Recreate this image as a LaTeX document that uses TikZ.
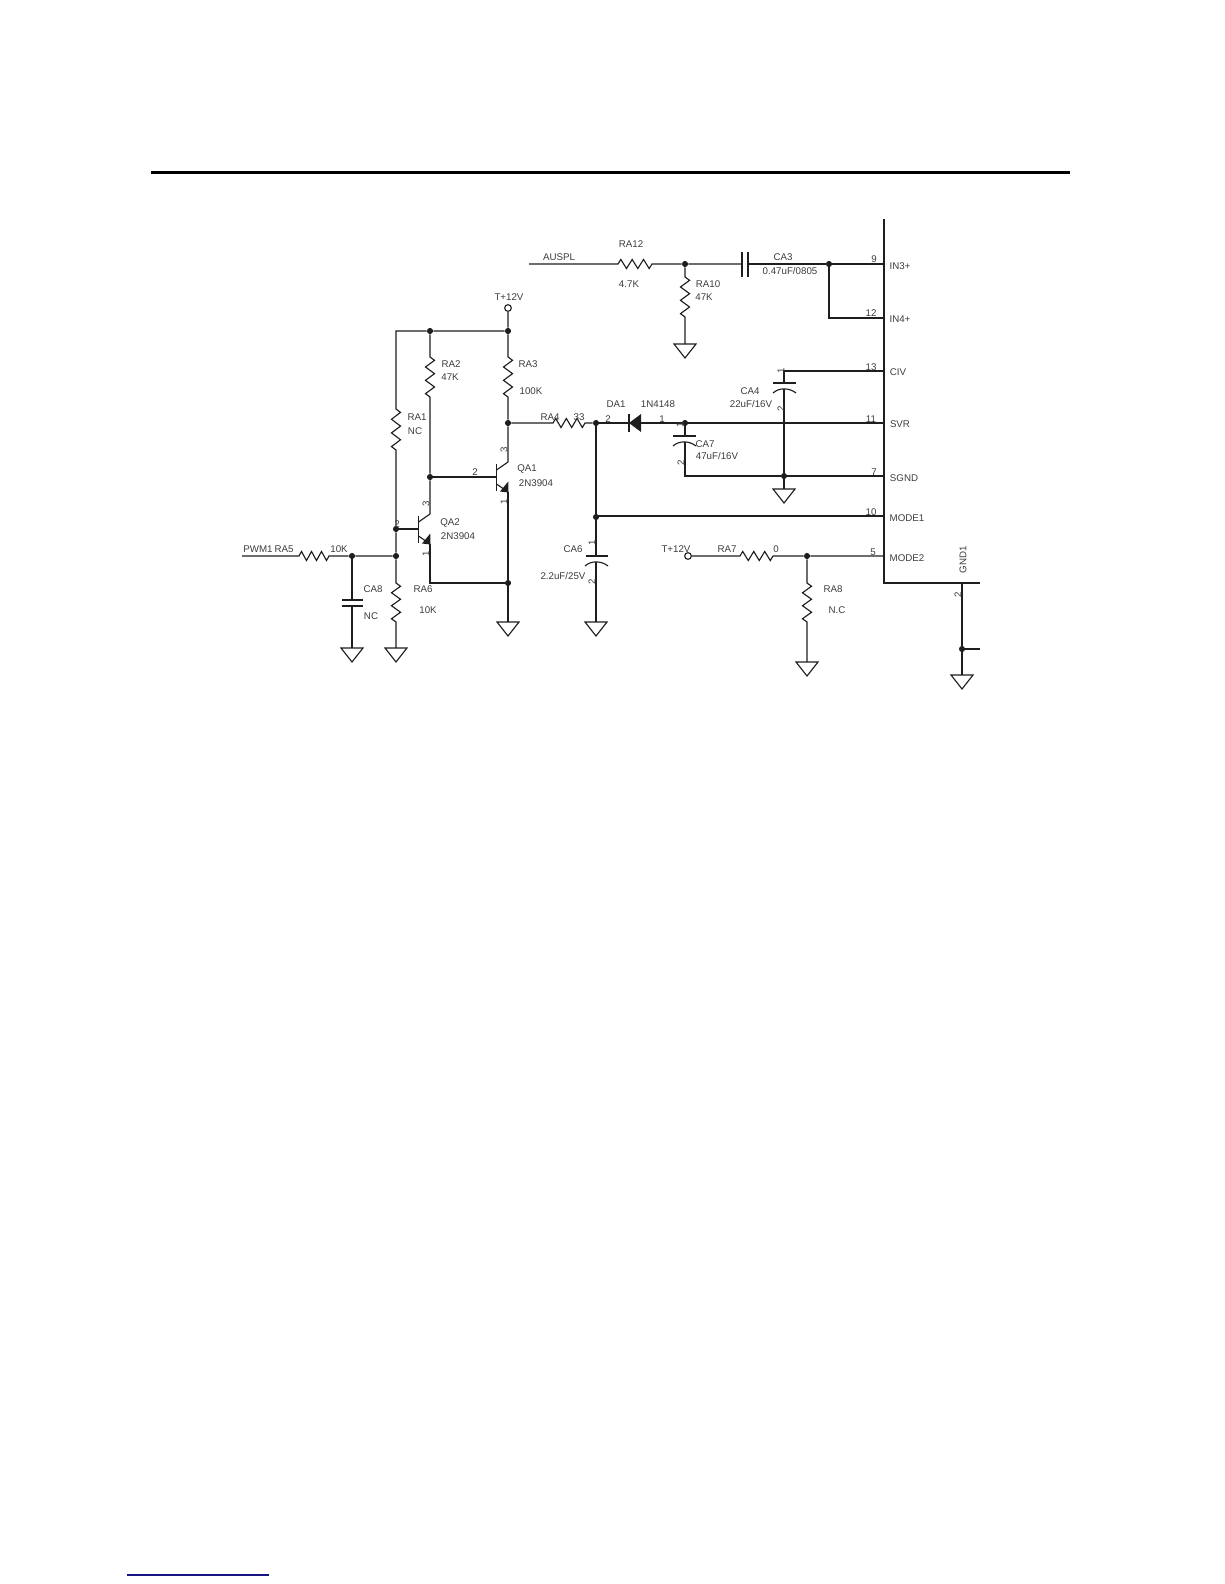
\documentclass[tikz,border=0pt]{standalone}
\usepackage{fontspec}
\setmainfont{Liberation Sans}
\usetikzlibrary{calc}
\definecolor{wirecol}{HTML}{1E1E1E}
\definecolor{textcol}{HTML}{3C3C3C}
\tikzset{
  wire/.style={draw=wirecol,line width=0.85pt,line cap=butt,line join=miter},
  res/.style={to path={
    -- ($(\tikztostart)!0.083!(\tikztotarget)!3.4pt!90:(\tikztotarget)$)
    -- ($(\tikztostart)!0.25!(\tikztotarget)!3.4pt!-90:(\tikztotarget)$)
    -- ($(\tikztostart)!0.417!(\tikztotarget)!3.4pt!90:(\tikztotarget)$)
    -- ($(\tikztostart)!0.583!(\tikztotarget)!3.4pt!-90:(\tikztotarget)$)
    -- ($(\tikztostart)!0.75!(\tikztotarget)!3.4pt!90:(\tikztotarget)$)
    -- ($(\tikztostart)!0.917!(\tikztotarget)!3.4pt!-90:(\tikztotarget)$)
    -- (\tikztotarget)}},
  dot/.style={circle,fill=wirecol,draw=none,minimum size=4.6pt,inner sep=0pt},
  openpt/.style={circle,draw=wirecol,fill=white,line width=0.85pt,minimum size=5pt,inner sep=0pt},
  lbl/.style={text=textcol,font=\fontsize{7.3}{8}\selectfont,inner sep=0pt},
  pinv/.style={lbl,rotate=90},
  gnd/.pic={\draw[wire] (-11,0)--(11,0)--(0,14)--cycle;},
  npn/.pic={
    \draw[wire,line width=1pt] (0,-13.5)--(0,13.5);
    \draw[wire] (0,-7)--(11.5,-15);
    \draw[wire] (0,7)--(11.5,15);
    \fill[wirecol] (3.5,14.5)--(11.8,15.5)--(11.8,4.5)--cycle;}
}
\begin{document}
\begin{tikzpicture}[x=0.75pt,y=-0.75pt]
\useasboundingbox (0,0) rectangle (1224,1584);
% page rules
\coordinate (ruleL) at (151,172.3); \coordinate (ruleR) at (1070,172.3);
\draw[black,line width=2.5pt] (ruleL)--(ruleR);
\coordinate (footL) at (127,1575); \coordinate (footR) at (269,1575);
\draw[color={rgb,255:red,20;green,20;blue,130},line width=0.9pt] (footL)--(footR);

% junctions
\node[dot] (jtop) at (508,331) {};
\node[dot] (jra2) at (430,331) {};
\node[dot] (jq1c) at (508,423) {};
\node[dot] (jq1b) at (430,477) {};
\node[dot] (jq2b) at (396,529) {};
\node[dot] (jpwm) at (396,556) {};
\node[dot] (jca8) at (352,556) {};
\node[dot] (jem) at (508,583) {};
\node[dot] (jda) at (596,423) {};
\node[dot] (jmode) at (596,517) {};
\node[dot] (jsvr) at (685,423) {};
\node[dot] (jsgnd) at (784,476) {};
\node[dot] (jaus) at (685,264) {};
\node[dot] (jin3) at (829,264) {};
\node[dot] (jm2) at (807,556) {};
\node[dot] (jg1) at (962,649) {};
\node[openpt] (vcc) at (508,308) {};
\node[openpt] (vcc2) at (688,556) {};

% free ends and component terminals
\coordinate (corner) at (396,331);
\coordinate (ra1a) at (396,409); \coordinate (ra1b) at (396,450);
\coordinate (ra2a) at (430,357); \coordinate (ra2b) at (430,397);
\coordinate (ra3a) at (508,357); \coordinate (ra3b) at (508,397);
\coordinate (ra4a) at (553,423); \coordinate (ra4b) at (585,423);
\coordinate (ra5a) at (299,556); \coordinate (ra5b) at (329,556);
\coordinate (ra6a) at (396,583); \coordinate (ra6b) at (396,622);
\coordinate (ra7a) at (740,556); \coordinate (ra7b) at (773,556);
\coordinate (ra8a) at (807,583); \coordinate (ra8b) at (807,622);
\coordinate (ra10a) at (685,277); \coordinate (ra10b) at (685,317);
\coordinate (ra12a) at (618,264); \coordinate (ra12b) at (652,264);
\coordinate (pwm) at (242,556); \coordinate (aus) at (529,264);
\coordinate (g1) at (352,648); \coordinate (g2) at (396,648);
\coordinate (g3) at (508,622); \coordinate (g4) at (596,622);
\coordinate (g5) at (685,344); \coordinate (g6) at (784,489);
\coordinate (g7) at (807,662); \coordinate (g8) at (962,675);
\coordinate (in3) at (884,264); \coordinate (in4) at (884,318);
\coordinate (in4c) at (829,318);
\coordinate (civ) at (884,371); \coordinate (civc) at (784,371);
\coordinate (svr) at (884,423); \coordinate (sgnd) at (884,476);
\coordinate (sgndc) at (685,476);
\coordinate (mode1) at (884,516); \coordinate (mode2) at (884,556);
\coordinate (jmodeR) at (596,516);
\coordinate (icT) at (884,219); \coordinate (icB) at (884,583); \coordinate (icR) at (980,583);
\coordinate (g1pin) at (962,583); \coordinate (g1r) at (980,649);
\coordinate (q1b) at (496.5,477); \coordinate (q1c) at (508,462); \coordinate (q1e) at (508,492);
\coordinate (q2b) at (418.5,529); \coordinate (q2c) at (430,514); \coordinate (q2e) at (430,544);
\coordinate (cornerB) at (430,583);
\coordinate (ca3a) at (742,264); \coordinate (ca3b) at (748,264);
\coordinate (ca4a) at (784,383); \coordinate (ca4b) at (784,389);
\coordinate (ca6a) at (596,556); \coordinate (ca6b) at (596,562);
\coordinate (ca7a) at (685,436); \coordinate (ca7b) at (685,442);
\coordinate (ca8a) at (352,600); \coordinate (ca8b) at (352,606);
\coordinate (da) at (629,423); \coordinate (dk) at (641,423);

% IC outline
\draw[wire] (icT)--(icB)--(icR);

% wiring
\draw[wire] (vcc)--(jtop)--(jra2)--(corner)--(ra1a) to[res] (ra1b)--(jq2b)--(jpwm)--(ra6a) to[res] (ra6b)--(g2);
\draw[wire] (jra2)--(ra2a) to[res] (ra2b)--(jq1b)--(q2c);
\draw[wire] (jtop)--(ra3a) to[res] (ra3b)--(jq1c)--(q1c);
\draw[wire] (jq1c)--(ra4a) to[res] (ra4b)--(jda);
\draw[wire] (jq1b)--(q1b);
\draw[wire] (jq2b)--(q2b);
\draw[wire] (q1e)--(jem)--(g3);
\draw[wire] (q2e)--(cornerB)--(jem);
\draw[wire] (pwm)--(ra5a) to[res] (ra5b)--(jca8)--(jpwm);
\draw[wire] (jca8)--(ca8a);
\draw[wire] (ca8b)--(g1);
\draw[wire] (jda)--(jmode)--(ca6a);
\draw[wire] (ca6b)--(g4);
\draw[wire] (jmodeR)--(mode1);
\draw[wire] (jda)--(da);
\draw[wire] (dk)--(jsvr)--(svr);
\draw[wire] (jsvr)--(ca7a);
\draw[wire] (ca7b)--(sgndc)--(jsgnd)--(sgnd);
\draw[wire] (jsgnd)--(g6);
\draw[wire] (civ)--(civc)--(ca4a);
\draw[wire] (ca4b)--(jsgnd);
\draw[wire] (aus)--(ra12a) to[res] (ra12b)--(jaus)--(ca3a);
\draw[wire] (ca3b)--(jin3)--(in3);
\draw[wire] (jin3)--(in4c)--(in4);
\draw[wire] (jaus)--(ra10a) to[res] (ra10b)--(g5);
\draw[wire] (vcc2)--(ra7a) to[res] (ra7b)--(jm2)--(mode2);
\draw[wire] (jm2)--(ra8a) to[res] (ra8b)--(g7);
\draw[wire] (g1pin)--(jg1)--(g8);
\draw[wire] (jg1)--(g1r);

% capacitors
\draw[wire] (742,252)--(742,277) (748,252)--(748,277);
\draw[wire] (342,600)--(363,600) (342,606)--(363,606);
\draw[wire] (586,556)--(608,556);
\draw[wire] (585,566) .. controls (591,560.5) and (601,560.5) .. (608,566);
\draw[wire] (773,383)--(796,383);
\draw[wire] (773,393) .. controls (779,387.5) and (789,387.5) .. (796,393);
\draw[wire] (673,436)--(696,436);
\draw[wire] (673,446) .. controls (679,440.5) and (689,440.5) .. (696,446);

% diode
\fill[wirecol] (629,423)--(641,414)--(641,432)--cycle;
\draw[wire,line width=1pt] (629,414)--(629,432);

% transistors
\pic at (q1b) {npn};
\pic at (q2b) {npn};

% grounds
\pic at (g1) {gnd}; \pic at (g2) {gnd}; \pic at (g3) {gnd}; \pic at (g4) {gnd};
\pic at (g5) {gnd}; \pic at (g6) {gnd}; \pic at (g7) {gnd}; \pic at (g8) {gnd};

% labels
\node[lbl] (t1) at (509,297) {T+12V};
\node[lbl] (t2) at (451,364) {RA2};
\node[lbl] (t3) at (450,377) {47K};
\node[lbl] (t4) at (528,364) {RA3};
\node[lbl] (t5) at (531,391) {100K};
\node[lbl] (t6) at (417,417) {RA1};
\node[lbl] (t7) at (415,431) {NC};
\node[lbl] (t8) at (550,417) {RA4};
\node[lbl] (t9) at (579,417) {33};
\node[lbl] (t10) at (608,419) {2};
\node[pinv] (t11) at (504,450) {3};
\node[lbl] (t12) at (475,472) {2};
\node[lbl] (t13) at (527,469) {QA1};
\node[lbl] (t14) at (536,483) {2N3904};
\node[pinv] (t15) at (504,502) {1};
\node[pinv] (t16) at (426,504) {3};
\node[lbl] (t17) at (397,524) {2};
\node[lbl] (t18) at (450,523) {QA2};
\node[lbl] (t19) at (458,536) {2N3904};
\node[pinv] (t20) at (426,554) {1};
\node[lbl] (t21) at (258,549) {PWM1};
\node[lbl] (t22) at (284,549) {RA5};
\node[lbl] (t23) at (339,549) {10K};
\node[lbl] (t24) at (373,589) {CA8};
\node[lbl] (t25) at (371,616) {NC};
\node[lbl] (t26) at (423,589) {RA6};
\node[lbl] (t27) at (428,610) {10K};
\node[lbl] (t28) at (573,549) {CA6};
\node[pinv] (t29) at (592,543) {1};
\node[lbl] (t30) at (563,576) {2.2uF/25V};
\node[pinv] (t31) at (592,582) {2};
\node[lbl] (t32) at (559,257) {AUSPL};
\node[lbl] (t33) at (631,244) {RA12};
\node[lbl] (t34) at (629,284) {4.7K};
\node[lbl] (t35) at (708,284) {RA10};
\node[lbl] (t36) at (704,297) {47K};
\node[lbl] (t37) at (783,257) {CA3};
\node[lbl] (t38) at (790,271) {0.47uF/0805};
\node[lbl] (t39) at (874,259) {9};
\node[lbl] (t40) at (900,266) {IN3+};
\node[lbl] (t41) at (871,313) {12};
\node[lbl] (t42) at (900,319) {IN4+};
\node[lbl] (t43) at (871,367) {13};
\node[lbl] (t44) at (898,372) {CIV};
\node[lbl] (t45) at (750,391) {CA4};
\node[lbl] (t46) at (751,404) {22uF/16V};
\node[pinv] (t47) at (781,371) {1};
\node[pinv] (t48) at (781,409) {2};
\node[lbl] (t49) at (871,419) {11};
\node[lbl] (t50) at (900,424) {SVR};
\node[lbl] (t51) at (874,472) {7};
\node[lbl] (t52) at (904,478) {SGND};
\node[lbl] (t53) at (616,404) {DA1};
\node[lbl] (t54) at (658,404) {1N4148};
\node[lbl] (t55) at (662,419) {1};
\node[pinv] (t56) at (680,425) {1};
\node[lbl] (t57) at (705,444) {CA7};
\node[lbl] (t58) at (717,456) {47uF/16V};
\node[pinv] (t59) at (681,463) {2};
\node[lbl] (t60) at (871,512) {10};
\node[lbl] (t61) at (907,518) {MODE1};
\node[lbl] (t62) at (873,552) {5};
\node[lbl] (t63) at (907,558) {MODE2};
\node[pinv] (t64) at (963,560) {GND1};
\node[pinv] (t65) at (958,595) {2};
\node[lbl] (t66) at (676,549) {T+12V};
\node[lbl] (t67) at (727,549) {RA7};
\node[lbl] (t68) at (776,549) {0};
\node[lbl] (t69) at (833,589) {RA8};
\node[lbl] (t70) at (837,610) {N.C};
\end{tikzpicture}
\end{document}
